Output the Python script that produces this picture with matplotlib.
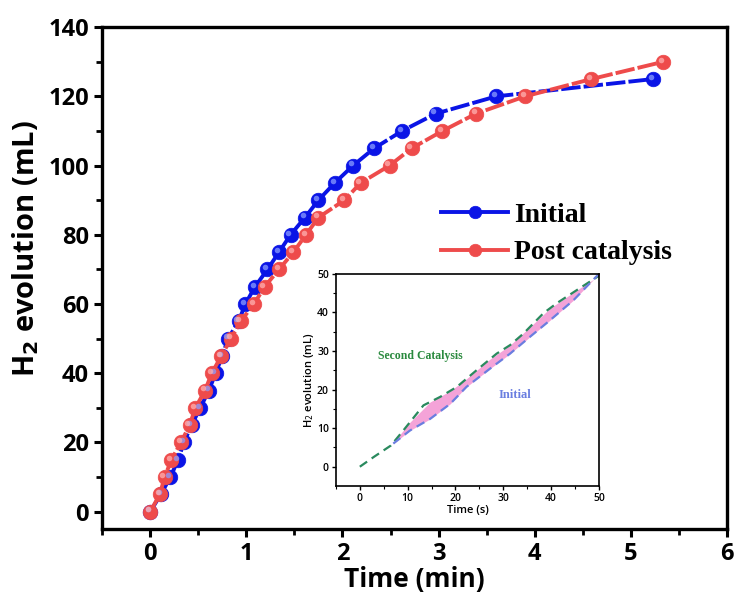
import matplotlib
matplotlib.use("Agg")
import matplotlib.pyplot as plt
import numpy as np
from matplotlib.transforms import offset_copy

# ---- main data ----
init_t = [0, 0.11, 0.21, 0.29, 0.35, 0.43, 0.52, 0.61, 0.68, 0.75, 0.81, 0.92, 0.99,
          1.09, 1.22, 1.34, 1.46, 1.61, 1.75, 1.92, 2.11, 2.33, 2.62, 2.97, 3.6, 5.23]
init_v = [0, 5, 10, 15, 20, 25, 30, 35, 40, 45, 50, 55, 60,
          65, 70, 75, 80, 85, 90, 95, 100, 105, 110, 115, 120, 125]
post_t = [0, 0.10, 0.15, 0.22, 0.32, 0.41, 0.47, 0.57, 0.64, 0.74, 0.84, 0.94, 1.08,
          1.19, 1.34, 1.49, 1.62, 1.75, 2.02, 2.19, 2.49, 2.72, 3.04, 3.39, 3.9, 4.59, 5.34]
post_v = [0, 5, 10, 15, 20, 25, 30, 35, 40, 45, 50, 55, 60,
          65, 70, 75, 80, 85, 90, 95, 100, 105, 110, 115, 120, 125, 130]

# ---- inset data ----
sec_t = [0, 3, 6.5, 9.1, 13.3, 16.8, 20.3, 24.4, 28.6, 31.4, 34.2, 38.4, 41.2, 45.4, 50]
sec_v = [0, 2.6, 5.5, 9.4, 15.9, 18.1, 20.7, 25.0, 29.3, 31.5, 34.5, 39.8, 42.4, 45.8, 49.5]
ini_t = [7, 10.5, 14.7, 18.9, 22.3, 27.2, 31.4, 35.6, 39.8, 44.7, 50]
ini_v = [6, 9.4, 12.4, 16.3, 20.7, 25.4, 29.3, 33.7, 38.0, 43.2, 50]

BLUE = "#0a14e6"
RED = "#ee4b4b"
TICKFONT = "Open Sans"
SERIF = "Liberation Serif"

fig = plt.figure(figsize=(7.35, 6.03), dpi=100)
ax = fig.add_axes([0.139, 0.1227, 0.85, 0.8323])

def balls(ax, t, v, color, light, label):
    ax.plot(t, v, color=color, lw=2.8, ls=(0, (5, 0.8)), marker="o", ms=10.5,
            mfc=color, mec=color, mew=0.5, label=label, zorder=3)
    tr = offset_copy(ax.transData, fig=fig, x=-1.6, y=1.6, units="points")
    ax.plot(t, v, ls="none", marker="o", ms=4, mfc=light, mec="none",
            alpha=0.75, transform=tr, zorder=4)

balls(ax, init_t, init_v, BLUE, "#8a9cff", "Initial")
balls(ax, post_t, post_v, RED, "#ffb0b0", "Post catalysis")

ax.set_xlim(-0.5, 6)
ax.set_ylim(-5, 140)
ax.set_xticks(range(0, 7))
ax.set_xticks([i + 0.5 for i in range(-1, 6)], minor=True)
ax.set_yticks(range(0, 141, 20))
ax.set_yticks(range(10, 141, 20), minor=True)
for s in ax.spines.values():
    s.set_linewidth(2.4)
ax.tick_params(which="major", direction="out", length=6, width=2.2, labelsize=17)
ax.tick_params(which="minor", direction="out", length=4, width=2.0)
for lab in ax.get_xticklabels() + ax.get_yticklabels():
    lab.set_fontfamily(TICKFONT)
    lab.set_fontweight("bold")
ax.set_xlabel("Time (min)", fontsize=19, fontweight="bold", family=TICKFONT, labelpad=0)
ax.set_ylabel("H$_\\mathbf{2}$ evolution (mL)", fontsize=21, fontweight="bold",
              family=TICKFONT)
ax.yaxis.set_label_coords(-0.097, 0.558)

leg = ax.legend(loc="upper left", bbox_to_anchor=(0.503, 0.70), frameon=False,
                prop={"family": SERIF, "weight": "bold", "size": 20},
                handlelength=2.4, handletextpad=0.2, labelspacing=0.42)
for h in leg.legend_handles:
    h.set_linestyle("-")
    h.set_markersize(9)

# ---- inset ----
ins = fig.add_axes([0.457, 0.194, 0.358, 0.352])
ins.fill_between(ini_t, ini_v, np.interp(ini_t, sec_t, sec_v), color="#f4a3d8", lw=0)
ins.plot(sec_t, sec_v, color="#2a8a5e", lw=1.6, ls=(0, (4, 2.5)))
ins.plot(ini_t, ini_v, color="#6a7ee0", lw=1.6, ls=(0, (4, 2.5)))
ins.set_xlim(-5, 50)
ins.set_ylim(-5, 50)
ins.set_xticks(range(0, 51, 10))
ins.set_xticks(range(-5, 51, 10), minor=True)
ins.set_yticks(range(0, 51, 10))
ins.set_yticks(range(5, 51, 10), minor=True)
for s in ins.spines.values():
    s.set_linewidth(1.2)
ins.tick_params(which="major", direction="out", length=3, width=1.0, labelsize=7.5, pad=2)
ins.tick_params(which="minor", direction="out", length=2, width=0.8)
for lab in ins.get_xticklabels() + ins.get_yticklabels():
    lab.set_fontfamily(TICKFONT)
    lab.set_fontweight("semibold")
ins.set_xlabel("Time (s)", fontsize=8, family=TICKFONT, fontweight="semibold", labelpad=1)
ins.set_ylabel("H$_2$ evolution (mL)", fontsize=8, family=TICKFONT,
               fontweight="semibold", labelpad=1)
ins.text(12.6, 28.6, "Second Catalysis", color="#2a8a3e", fontsize=8.5,
         fontweight="bold", family=SERIF, ha="center", va="center")
ins.text(32.5, 18.5, "Initial", color="#6a7ee0", fontsize=9,
         fontweight="bold", family=SERIF, ha="center", va="center")

fig.savefig("out.png", dpi=100)
